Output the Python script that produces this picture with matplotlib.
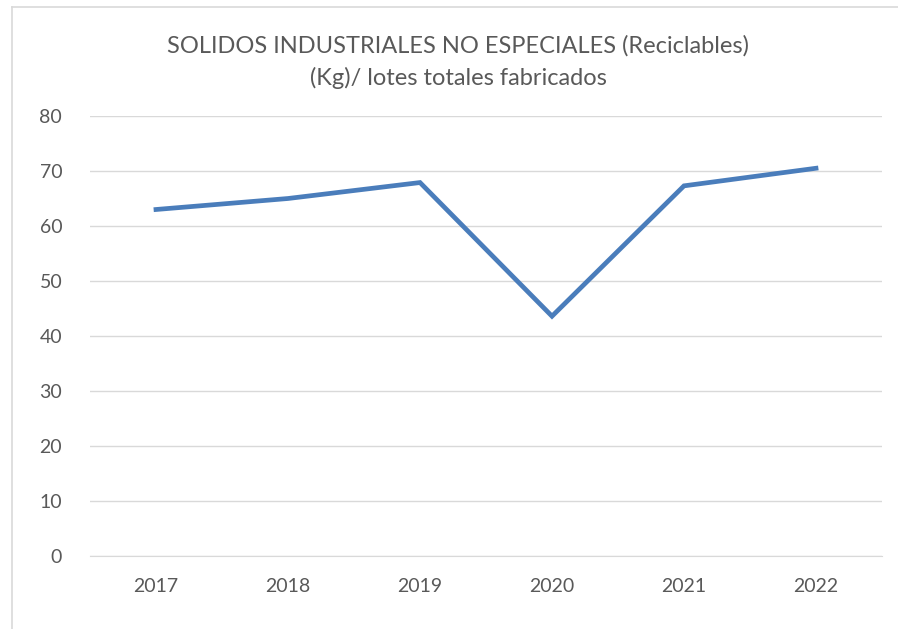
import matplotlib
matplotlib.use("Agg")
import matplotlib.pyplot as plt
from matplotlib.lines import Line2D

years = ["2017", "2018", "2019", "2020", "2021", "2022"]
values = [63.0, 65.0, 67.9, 43.6, 67.3, 70.5]
yticks = [0, 10, 20, 30, 40, 50, 60, 70, 80]

plt.rcParams['font.family'] = ['Lato', 'DejaVu Sans']
gray = '#595959'
grid = '#d9d9d9'

fig = plt.figure(figsize=(8.98, 6.29), dpi=100)
ax = fig.add_axes([90 / 898, 1 - 556 / 629, 792 / 898, 440 / 629])

x = range(len(years))
ax.plot(x, values, color='#4a7dbb', linewidth=3.4, solid_joinstyle='miter', zorder=3)

ax.set_xlim(-0.5, len(years) - 0.5)
ax.set_ylim(0, 80)
ax.set_yticks(yticks)
ax.set_xticks(list(x))
ax.set_xticklabels(years)
ax.grid(axis='y', color=grid, linewidth=1.0, zorder=1)
ax.tick_params(length=0, labelsize=14, colors=gray)
ax.tick_params(axis='y', pad=20)
ax.tick_params(axis='x', pad=16)
for s in ['top', 'right', 'left']:
    ax.spines[s].set_visible(False)
ax.spines['bottom'].set_color(grid)

fig.text(458 / 898, 1 - 46 / 629, "SOLIDOS INDUSTRIALES NO ESPECIALES (Reciclables)",
         ha='center', va='center', fontsize=17, color=gray)
fig.text(458 / 898, 1 - 78 / 629, "(Kg)/ lotes totales fabricados",
         ha='center', va='center', fontsize=17, color=gray)

# chart border (left and top edges visible)
fig.add_artist(Line2D([12 / 898, 12 / 898], [0, 1 - 7 / 629], color=grid, linewidth=1.2))
fig.add_artist(Line2D([12 / 898, 1], [1 - 7 / 629, 1 - 7 / 629], color=grid, linewidth=1.2))

fig.savefig("out.png", dpi=100)
